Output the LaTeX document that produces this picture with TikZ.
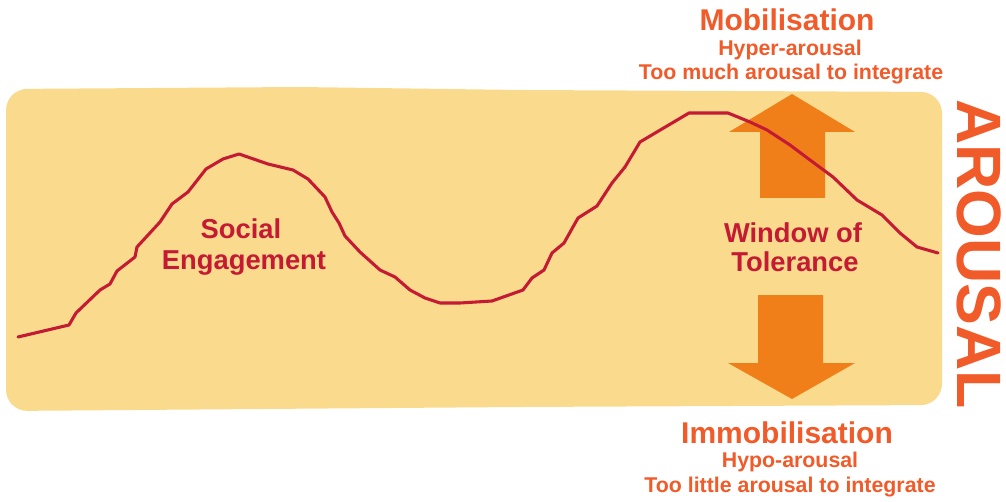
\documentclass[tikz,border=0pt]{standalone}
\usepackage{fontspec}
\setmainfont{Liberation Sans}
\definecolor{boxfill}{HTML}{FADA8D}
\definecolor{curvered}{HTML}{C41A33}
\definecolor{arroworange}{HTML}{F07F1A}
\definecolor{headorange}{HTML}{F15A29}
\tikzset{
  headtext/.style={text=headorange, font=\bfseries\fontsize{22.5}{24}\selectfont, anchor=base, inner sep=0pt},
  subtext/.style={text=headorange, font=\bfseries\fontsize{16}{18}\selectfont, anchor=base, inner sep=0pt},
  labeltext/.style={text=curvered, font=\bfseries\fontsize{20.5}{22}\selectfont, anchor=base, inner sep=0pt},
  bigarrow/.style={fill=arroworange, draw=none},
  curveline/.style={draw=curvered, line width=2.3pt, line join=round, line cap=round},
}
\begin{document}
\begin{tikzpicture}[x=0.75pt,y=-0.75pt]
\useasboundingbox (0,0) rectangle (1006,502);
% window box
\fill[boxfill, rounded corners=16] (6,89) -- (300,87) -- (520,90) -- (942,92) -- (942,405) -- (520,407) -- (6,411) -- cycle;
% arrows
\path[bigarrow] (760,198) -- (760,132) -- (729,132) -- (792,94) -- (855,132) -- (825,132) -- (825,198) -- cycle;
\path[bigarrow] (758,295) -- (823,295) -- (823,363) -- (855,363) -- (792,399) -- (728,363) -- (758,363) -- cycle;
% curve
\draw[curveline] (18,337) -- (69,325) -- (76,313) -- (100,290) -- (110,284) -- (117,271) -- (135,257) -- (137,247) -- (160,222) -- (172,204) -- (188,192) -- (206,169) -- (223,159) -- (239,154) -- (268,164) -- (293,170) -- (308,179) -- (325,197) -- (332,212) -- (339,223) -- (345,236) -- (360,252) -- (380,270) -- (395,277) -- (410,290) -- (425,298) -- (440,303) -- (460,303) -- (492,301) -- (523,290) -- (532,278) -- (544,270) -- (552,253) -- (564,243) -- (578,218) -- (597,206) -- (612,183) -- (625,167) -- (640,142) -- (667,126) -- (689,113) -- (708,113) -- (728,113) -- (750,122) -- (767,130) -- (790,145) -- (810,160) -- (833,177) -- (857,200) -- (882,215) -- (900,233) -- (917,247) -- (938,253);
% texts
\node[headtext] (mob) at (787,31) {Mobilisation};
\node[subtext] (hyper) at (790,56) {Hyper-arousal};
\node[subtext] (toomuch) at (791,80) {Too much arousal to integrate};
\node[headtext] (immob) at (787,443) {Immobilisation};
\node[subtext] (hypo) at (790,467) {Hypo-arousal};
\node[subtext] (toolittle) at (790,492) {Too little arousal to integrate};
\node[labeltext] (social) at (241,239) {Social};
\node[labeltext] (engage) at (244,270) {Engagement};
\node[labeltext] (window) at (793,243) {Window of};
\node[labeltext] (toler) at (795,272) {Tolerance};
\node[text=headorange, font=\bfseries\fontsize{47}{50}\selectfont, rotate=-90, inner sep=0pt] (arousal) at (979,254) {AROUSAL};
\end{tikzpicture}
\end{document}
